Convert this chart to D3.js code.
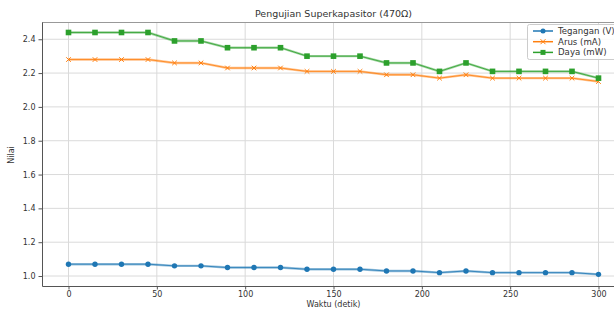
<!DOCTYPE html>
<html><head><meta charset="utf-8">
<script src="https://cdn.jsdelivr.net/npm/d3@7"></script>
<style>body{margin:0;background:#fff}svg{display:block}text{font-family:"DejaVu Sans",sans-serif;fill:#333}</style>
</head><body><svg id="c" width="614" height="309"></svg>
<script>
const time = [0,15,30,45,60,75,90,105,120,135,150,165,180,195,210,225,240,255,270,285,300];
const tegangan = [1.07,1.07,1.07,1.07,1.06,1.06,1.05,1.05,1.05,1.04,1.04,1.04,1.03,1.03,1.02,1.03,1.02,1.02,1.02,1.02,1.01];
const arus = [2.28,2.28,2.28,2.28,2.26,2.26,2.23,2.23,2.23,2.21,2.21,2.21,2.19,2.19,2.17,2.19,2.17,2.17,2.17,2.17,2.15];
const daya = [2.44,2.44,2.44,2.44,2.39,2.39,2.35,2.35,2.35,2.30,2.30,2.30,2.26,2.26,2.21,2.26,2.21,2.21,2.21,2.21,2.17];
const xTicks = [0,50,100,150,200,250,300];
const yTicks = [1.0,1.2,1.4,1.6,1.8,2.0,2.2,2.4];
const seriesNames = ["Tegangan (V)","Arus (mA)","Daya (mW)"];
const colors = ["#1f77b4","#ff7f0e","#2ca02c"];

const svg = d3.select("#c");
const L=42, T=22, R=625, B=286;
const x = d3.scaleLinear().domain([-15,315]).range([L,R]);
const y = d3.scaleLinear().domain([0.941,2.502]).range([B,T]);

// grid
svg.append("g").selectAll("line").data(xTicks).join("line")
  .attr("x1",d=>x(d)).attr("x2",d=>x(d)).attr("y1",T).attr("y2",B)
  .attr("stroke","#dadada").attr("stroke-width",1);
svg.append("g").selectAll("line").data(yTicks).join("line")
  .attr("y1",d=>y(d)).attr("y2",d=>y(d)).attr("x1",L).attr("x2",R)
  .attr("stroke","#dadada").attr("stroke-width",1);

// frame
svg.append("line").attr("x1",L).attr("x2",R).attr("y1",T+0.5).attr("y2",T+0.5).attr("stroke","#999");

const xa = svg.append("g").attr("transform",`translate(0,${B})`)
  .call(d3.axisBottom(x).tickValues(xTicks).tickSize(3.5).tickSizeOuter(0).tickPadding(1.5).tickFormat(d3.format("d")));
const ya = svg.append("g").attr("transform",`translate(${L},0)`)
  .call(d3.axisLeft(y).tickValues(yTicks).tickSize(3.5).tickSizeOuter(0).tickPadding(3).tickFormat(d3.format(".1f")));
[xa,ya].forEach(a=>{a.selectAll("text").style("font-size","8px").attr("fill","#444");
  a.selectAll("line").attr("stroke","#555");a.select(".domain").attr("stroke","#555");});

const allSeries=[tegangan,arus,daya];
const line = d3.line().x((d,i)=>x(time[i])).y(d=>y(d));
allSeries.forEach((s,k)=>{
  const g=svg.append("g");
  g.append("path").datum(s).attr("d",line).attr("fill","none")
   .attr("stroke",colors[k]).attr("stroke-width",2.4).attr("stroke-opacity",0.45);
  g.append("path").datum(s).attr("d",line).attr("fill","none")
   .attr("stroke",colors[k]).attr("stroke-width",0.8);
  const pts=g.selectAll("g").data(s).join("g").attr("transform",(d,i)=>`translate(${x(time[i])},${y(d)})`);
  if(k===0) pts.append("circle").attr("r",2.7).attr("fill",colors[k]);
  if(k===1) pts.append("path").attr("d","M-2.3,-2.3L2.3,2.3M-2.3,2.3L2.3,-2.3").attr("stroke",colors[k]).attr("stroke-width",1);
  if(k===2) pts.append("rect").attr("x",-2.8).attr("y",-2.8).attr("width",5.6).attr("height",5.6).attr("fill",colors[k]);
});

// title & labels
svg.append("text").attr("x",(L+R)/2).attr("y",17).attr("text-anchor","middle").style("font-size","9.5px").text("Pengujian Superkapasitor (470Ω)");
svg.append("text").attr("x",(L+R)/2).attr("y",307).attr("text-anchor","middle").style("font-size","8px").text("Waktu (detik)");
svg.append("text").attr("transform","translate(14,155) rotate(-90)").attr("text-anchor","middle").style("font-size","8px").text("Nilai");

// legend
const lg=svg.append("g");
lg.append("rect").attr("x",527.5).attr("y",24.5).attr("width",110).attr("height",35).attr("rx",2)
  .attr("fill","#fff").attr("fill-opacity",0.85).attr("stroke","#ccc");
seriesNames.forEach((n,k)=>{
  const yy=31+k*10.7;
  lg.append("line").attr("x1",533).attr("x2",553).attr("y1",yy).attr("y2",yy).attr("stroke",colors[k]).attr("stroke-width",1.5);
  if(k===0) lg.append("circle").attr("cx",543).attr("cy",yy).attr("r",2.5).attr("fill",colors[k]);
  if(k===1) lg.append("path").attr("d",`M540.5,${yy-2.5}L545.5,${yy+2.5}M540.5,${yy+2.5}L545.5,${yy-2.5}`).attr("stroke",colors[k]);
  if(k===2) lg.append("rect").attr("x",540.5).attr("y",yy-2.5).attr("width",5).attr("height",5).attr("fill",colors[k]);
  lg.append("text").attr("x",558).attr("y",yy+3).style("font-size","8.6px").text(n);
});
</script></body></html>
